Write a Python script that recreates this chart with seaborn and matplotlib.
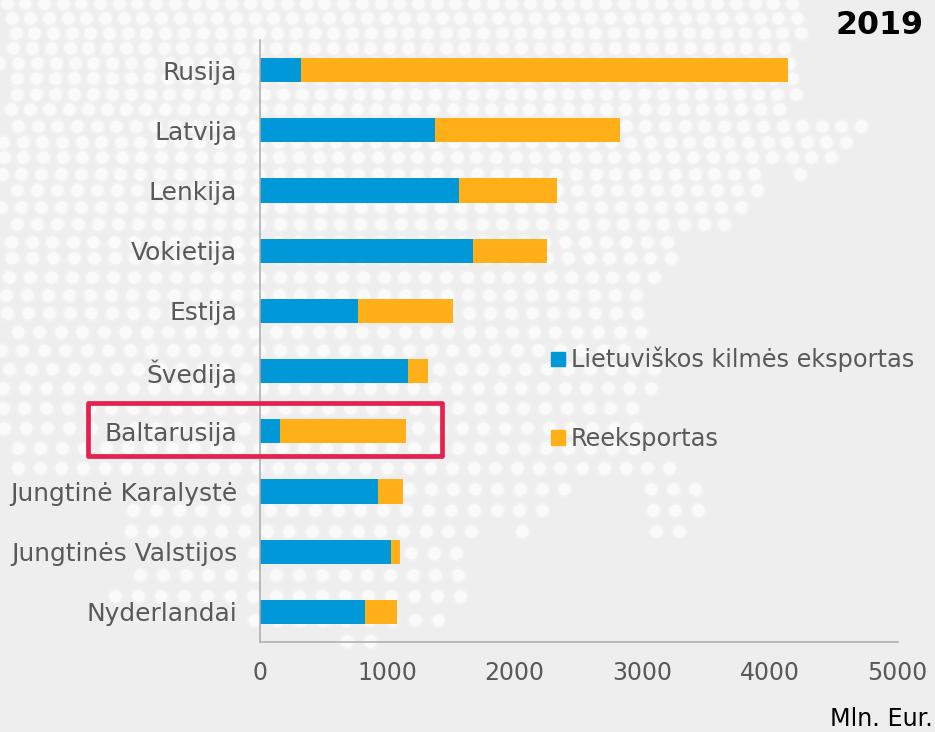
import matplotlib
matplotlib.use("Agg")
import matplotlib.pyplot as plt
from matplotlib.patches import Patch, Rectangle
import numpy as np
import pandas as pd
import seaborn as sns

countries = ["Rusija", "Latvija", "Lenkija", "Vokietija", "Estija", "Švedija", "Baltarusija",
             "Jungtinė Karalystė", "Jungtinės Valstijos", "Nyderlandai"]
origin_exports = [328, 1375, 1561, 1673, 774, 1164, 160, 929, 1031, 824]
re_exports = [3814, 1453, 770, 577, 742, 156, 986, 196, 70, 251]
x_ticks = [0, 1000, 2000, 3000, 4000, 5000]

BG = "#EEEEEE"
BLUE = "#0098D8"
ORANGE = "#FFAF18"
GREY = "#595959"

# decoration only: dotted map behind the chart, (y, left end, right end, pitch) in pixels
dot_rows = [
    (3, 0, 798, 18.7), (18, 0, 803, 18.7), (33, 0, 807, 18.7), (48, 0, 790, 18.8),
    (63, 0, 795, 18.8), (78, 0, 798, 18.9), (94, 0, 802, 19), (109, 0, 785, 19.2),
    (126, 0, 867, 19.6), (142, 0, 852, 19.6), (157, 0, 837, 19.7), (174, 0, 760, 19.8),
    (174, 790, 806, 19.8), (190, 0, 763, 20), (207, 0, 747, 20), (224, 0, 730, 20.2),
    (242, 0, 673, 20.5), (258, 0, 677, 20.6), (277, 0, 660, 20.8), (295, 0, 642, 21),
    (313, 0, 643, 21), (332, 0, 647, 21.5), (350, 0, 630, 21.5), (369, 0, 660, 21.5),
    (388, 0, 657, 21.6), (408, 0, 638, 21.7), (428, 0, 642, 21.8), (448, 0, 640, 22),
    (468, 8, 675, 21.7), (489, 240, 570, 22.2), (489, 643, 701, 22.2), (510, 117, 548, 22.7),
    (510, 650, 704, 22.7), (531, 117, 477, 22.7), (531, 516, 528, 22.7), (531, 650, 685, 23),
    (553, 240, 462, 22.5), (575, 138, 464, 22.7), (596, 115, 466, 23), (620, 250, 444, 23),
    (641, 340, 376, 23),
]

sns.set_theme(style="white")
plt.rcParams["font.family"] = ["DejaVu Sans"]

df = pd.DataFrame({"country": countries, "origin": origin_exports, "re": re_exports})
df["total"] = df["origin"] + df["re"]

fig = plt.figure(figsize=(9.35, 7.32), dpi=100, facecolor=BG)

bg_ax = fig.add_axes([0, 0, 1, 1], zorder=0)
bg_ax.set_xlim(0, 935)
bg_ax.set_ylim(732, 0)
bg_ax.axis("off")
for y, x0, x1, pitch in dot_rows:
    xs = np.arange(x1 - 6, x0 - 1, -pitch)
    ys = np.full(len(xs), y)
    bg_ax.scatter(xs, ys, s=150, color="#F4F4F4", alpha=0.5, linewidths=0)
    bg_ax.scatter(xs, ys, s=82, color="#FAFAFA", linewidths=0)

ax = fig.add_axes([259.5 / 935, 1 - 642 / 732, 638 / 935, 602 / 732], zorder=1)
ax.patch.set_alpha(0)
sns.barplot(data=df, y="country", x="total", color=ORANGE, width=0.4, saturation=1, linewidth=0, ax=ax)
sns.barplot(data=df, y="country", x="origin", color=BLUE, width=0.4, saturation=1, linewidth=0, ax=ax)
ax.set_xlim(0, 5000)
ax.set_ylim(9.5, -0.5)
ax.set_xticks(x_ticks)
ax.set_xlabel("")
ax.set_ylabel("")
ax.tick_params(axis="y", length=0, pad=16, labelsize=17.9, labelcolor=GREY)
ax.tick_params(axis="x", length=0, pad=14, labelsize=17, labelcolor=GREY)
sns.despine(ax=ax)
for side in ["left", "bottom"]:
    ax.spines[side].set_color("#ABABAB")
    ax.spines[side].set_linewidth(1.1)

handles = [Patch(color=BLUE, label="Lietuviškos kilmės eksportas"), Patch(color=ORANGE, label="Reeksportas")]
ax.legend(handles=handles, frameon=False, loc="upper left", bbox_to_anchor=(551 / 935, 1 - 347 / 732),
          bbox_transform=fig.transFigure, borderpad=0, borderaxespad=0, fontsize=17.3, labelcolor=GREY,
          handlelength=0.58, handleheight=0.58, handletextpad=0.25, labelspacing=2.28)

top_ax = fig.add_axes([0, 0, 1, 1], zorder=2)
top_ax.set_xlim(0, 935)
top_ax.set_ylim(732, 0)
top_ax.axis("off")
top_ax.add_patch(Rectangle((88, 403), 354, 53, fill=False, edgecolor="#E6204F", linewidth=3.4, joinstyle="round"))
top_ax.text(924, 25, "2019", ha="right", va="center", fontsize=22.8, fontweight="bold", color="black")
top_ax.text(933, 726, "Mln. Eur.", ha="right", va="baseline", fontsize=17.2, color="black")

fig.savefig("out.png", dpi=100, facecolor=BG)
